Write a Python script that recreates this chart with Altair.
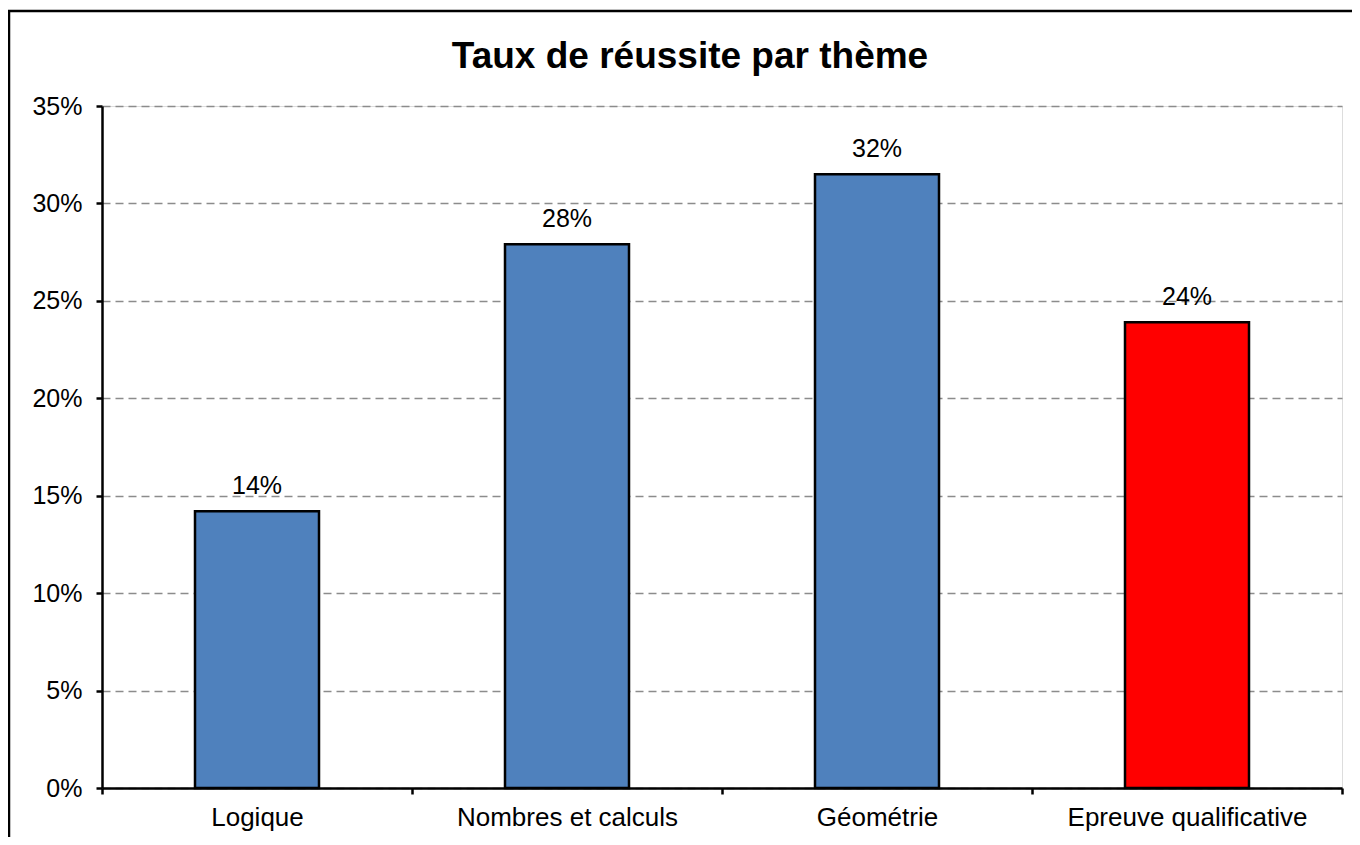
import altair as alt
import pandas as pd

title_text = "Taux de réussite par thème"
themes = ["Logique", "Nombres et calculs", "Géométrie", "Epreuve qualificative"]
taux = [0.142, 0.279, 0.315, 0.239]
highlight = "Epreuve qualificative"
y_ticks = [0, 0.05, 0.10, 0.15, 0.20, 0.25, 0.30, 0.35]

df = pd.DataFrame({"theme": themes, "taux": taux, "idx": list(range(len(themes)))})

FONT = "Liberation Sans"
W, H = 1240, 682

label_expr = "[" + ",".join("'" + t + "'" for t in themes) + ",''][datum.value]"

base = alt.Chart(df).transform_calculate(
    start="datum.idx + 0.3", end="datum.idx + 0.7", mid="datum.idx + 0.5"
)

x_axis = alt.Axis(
    values=list(range(len(themes) + 1)), labelExpr=label_expr, labelOffset=155,
    grid=False, title=None, domainColor="black", domainWidth=2.5,
    tickColor="black", tickWidth=2.5, tickSize=6, labelFontSize=26,
    labelFont=FONT, labelColor="black", labelPadding=10, labelAlign="center",
    labelFlush=False, labelOverlap=False, labelLimit=0,
)
y_axis = alt.Axis(
    values=y_ticks, format=".0%", grid=True, gridDash=[8, 5], gridColor="#8c8c8c",
    gridWidth=1.5, title=None, domainColor="black", domainWidth=2.5,
    tickColor="black", tickWidth=2.5, tickSize=6, labelFontSize=25,
    labelFont=FONT, labelColor="black", labelPadding=14,
)

bars = base.mark_bar(stroke="black", strokeWidth=2.5).encode(
    x=alt.X("start:Q", scale=alt.Scale(domain=[0, len(themes)], nice=False, zero=False), axis=x_axis),
    x2="end:Q",
    y=alt.Y("taux:Q", scale=alt.Scale(domain=[0, 0.35], nice=False), axis=y_axis),
    y2=alt.datum(0),
    color=alt.condition(alt.datum.theme == highlight, alt.value("#ff0000"), alt.value("#4f81bd")),
)

labels = base.mark_text(fontSize=25, font=FONT, color="black", dy=-17, baseline="alphabetic").encode(
    x="mid:Q", y="taux:Q", text=alt.Text("taux:Q", format=".0%")
)

one = pd.DataFrame({"t": [title_text]})

frame = alt.Chart(one).mark_rect(
    filled=False, stroke="black", strokeWidth=2.5
).encode(
    x=alt.value(-93), x2=alt.value(W + 100), y=alt.value(-95), y2=alt.value(H + 100)
)

title = alt.Chart(one).mark_text(
    fontSize=37, font=FONT, fontWeight="bold", color="black", align="center", baseline="alphabetic"
).encode(x=alt.value(588), y=alt.value(-38), text="t:N")

chart = alt.layer(bars, labels, frame, title).properties(
    width=W, height=H,
    autosize=alt.AutoSizeParams(type="none"),
    padding={"left": 94, "top": 98, "right": 10, "bottom": 49},
).configure_view(stroke=None).configure(background="white")

chart.save("out.html", embed_options={"renderer": "svg", "actions": False})
